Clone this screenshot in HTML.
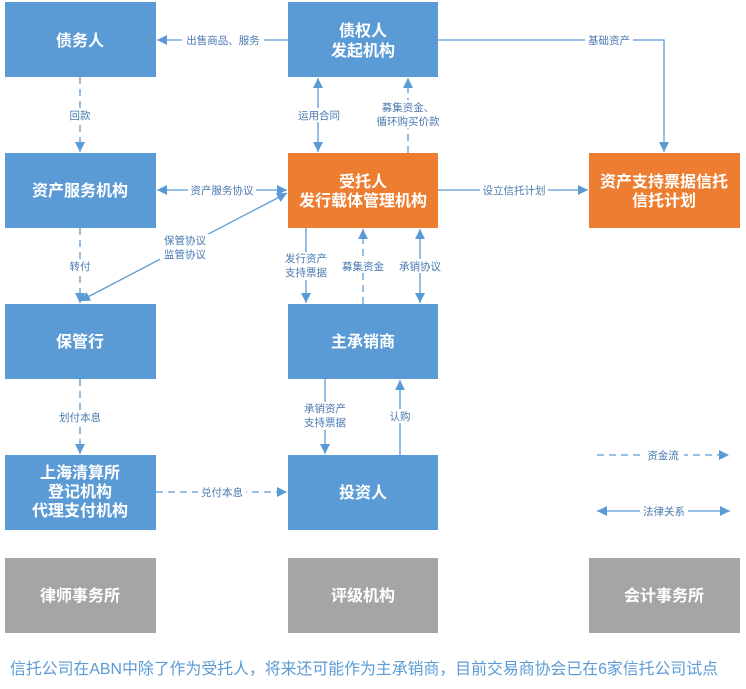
<!DOCTYPE html>
<html><head><meta charset="utf-8"><style>
body{margin:0;background:#fff;}
svg{display:block;font-family:"Liberation Sans","Noto Sans CJK SC",sans-serif;}
.bt{fill:#fff;font-size:16px;font-weight:bold;text-anchor:middle;}
.lb{fill:#4a78b0;font-size:10.5px;text-anchor:middle;}
.s{stroke:#5b9bd5;stroke-width:1.3;fill:none;}
.d{stroke:#5b9bd5;stroke-width:1.3;fill:none;stroke-dasharray:7,5;}
</style></head><body>
<svg width="746" height="689" viewBox="0 0 746 689">
<defs>
<marker id="a" viewBox="0 0 10 10" refX="10" refY="5" markerWidth="10" markerHeight="10" markerUnits="userSpaceOnUse" orient="auto-start-reverse"><path d="M0,0L10,5L0,10z" fill="#5b9bd5"/></marker>
</defs>
<g>
<rect x="5" y="2" width="151" height="75" fill="#5b9bd5"/>
<rect x="288" y="2" width="150" height="75" fill="#5b9bd5"/>
<rect x="5" y="153" width="151" height="75" fill="#5b9bd5"/>
<rect x="288" y="153" width="150" height="75" fill="#ed7d31"/>
<rect x="589" y="153" width="151" height="75" fill="#ed7d31"/>
<rect x="5" y="304" width="151" height="75" fill="#5b9bd5"/>
<rect x="288" y="304" width="150" height="75" fill="#5b9bd5"/>
<rect x="5" y="455" width="151" height="75" fill="#5b9bd5"/>
<rect x="288" y="455" width="150" height="75" fill="#5b9bd5"/>
<rect x="5" y="558" width="151" height="75" fill="#a5a5a5"/>
<rect x="288" y="558" width="150" height="75" fill="#a5a5a5"/>
<rect x="589" y="558" width="151" height="75" fill="#a5a5a5"/>
</g>
<text class="bt" x="80" y="46">债务人</text>
<text class="bt" x="363" y="36">债权人</text><text class="bt" x="363" y="56">发起机构</text>
<text class="bt" x="80" y="196">资产服务机构</text>
<text class="bt" x="363" y="187">受托人</text><text class="bt" x="363" y="206">发行载体管理机构</text>
<text class="bt" x="664" y="187">资产支持票据信托</text><text class="bt" x="664" y="206">信托计划</text>
<text class="bt" x="80" y="347">保管行</text>
<text class="bt" x="363" y="347">主承销商</text>
<text class="bt" x="80" y="478">上海清算所</text><text class="bt" x="80" y="497">登记机构</text><text class="bt" x="80" y="516">代理支付机构</text>
<text class="bt" x="363" y="498">投资人</text>
<text class="bt" x="80" y="601">律师事务所</text>
<text class="bt" x="363" y="601">评级机构</text>
<text class="bt" x="664" y="601">会计事务所</text>

<!-- connectors -->
<line class="s" x1="288" y1="40" x2="157" y2="40" marker-end="url(#a)"/>
<rect x="182" y="33" width="82" height="14" fill="#fff"/><text class="lb" x="223" y="44">出售商品、服务</text>
<line class="d" x1="80" y1="77" x2="80" y2="152" marker-end="url(#a)"/>
<rect x="66" y="108" width="28" height="14" fill="#fff"/><text class="lb" x="80" y="119">回款</text>
<polyline class="s" points="438,40 664,40 664,152" marker-end="url(#a)"/>
<rect x="585" y="33" width="48" height="14" fill="#fff"/><text class="lb" x="609" y="44">基础资产</text>
<line class="s" x1="318" y1="78" x2="318" y2="152" marker-start="url(#a)" marker-end="url(#a)"/>
<rect x="296" y="108" width="46" height="14" fill="#fff"/><text class="lb" x="319" y="119">运用合同</text>
<line class="d" x1="408" y1="153" x2="408" y2="78" marker-end="url(#a)"/>
<rect x="374" y="100" width="70" height="28" fill="#fff"/><text class="lb" x="408" y="111">募集资金、</text><text class="lb" x="408" y="125">循环购买价款</text>
<line class="s" x1="157" y1="190" x2="287" y2="190" marker-start="url(#a)" marker-end="url(#a)"/>
<rect x="188" y="183" width="68" height="14" fill="#fff"/><text class="lb" x="222" y="194">资产服务协议</text>
<line class="s" x1="438" y1="190" x2="588" y2="190" marker-end="url(#a)"/>
<rect x="480" y="183" width="68" height="14" fill="#fff"/><text class="lb" x="514" y="194">设立信托计划</text>
<line class="d" x1="80" y1="228" x2="80" y2="303" marker-end="url(#a)"/>
<rect x="66" y="259" width="28" height="14" fill="#fff"/><text class="lb" x="80" y="270">转付</text>
<line class="s" x1="80" y1="301" x2="287" y2="193" marker-start="url(#a)" marker-end="url(#a)"/>
<rect x="160" y="234" width="50" height="28" fill="#fff"/><text class="lb" x="185" y="244">保管协议</text><text class="lb" x="185" y="258">监管协议</text>
<line class="s" x1="306" y1="228" x2="306" y2="303" marker-end="url(#a)"/>
<rect x="282" y="252" width="48" height="28" fill="#fff"/><text class="lb" x="306" y="262">发行资产</text><text class="lb" x="306" y="276">支持票据</text>
<line class="d" x1="363" y1="304" x2="363" y2="229" marker-end="url(#a)"/>
<rect x="340" y="259" width="46" height="14" fill="#fff"/><text class="lb" x="363" y="270">募集资金</text>
<line class="s" x1="420" y1="229" x2="420" y2="303" marker-start="url(#a)" marker-end="url(#a)"/>
<rect x="397" y="259" width="46" height="14" fill="#fff"/><text class="lb" x="420" y="270">承销协议</text>
<line class="s" x1="325" y1="379" x2="325" y2="454" marker-end="url(#a)"/>
<rect x="301" y="402" width="48" height="28" fill="#fff"/><text class="lb" x="325" y="412">承销资产</text><text class="lb" x="325" y="426">支持票据</text>
<line class="s" x1="400" y1="455" x2="400" y2="380" marker-end="url(#a)"/>
<rect x="386" y="409" width="28" height="14" fill="#fff"/><text class="lb" x="400" y="420">认购</text>
<line class="d" x1="80" y1="379" x2="80" y2="454" marker-end="url(#a)"/>
<rect x="56" y="410" width="48" height="14" fill="#fff"/><text class="lb" x="80" y="421">划付本息</text>
<line class="d" x1="156" y1="492" x2="287" y2="492" marker-end="url(#a)"/>
<rect x="198" y="485" width="48" height="14" fill="#fff"/><text class="lb" x="222" y="496">兑付本息</text>
<!-- legend -->
<line class="d" x1="597" y1="455" x2="729" y2="455" marker-end="url(#a)"/>
<rect x="642" y="448" width="42" height="14" fill="#fff"/><text class="lb" x="663" y="459">资金流</text>
<line class="s" x1="597" y1="511" x2="730" y2="511" marker-start="url(#a)" marker-end="url(#a)"/>
<rect x="640" y="504" width="48" height="14" fill="#fff"/><text class="lb" x="664" y="515">法律关系</text>
<text x="10" y="674" fill="#5b9bd5" font-size="16" textLength="708" lengthAdjust="spacingAndGlyphs">信托公司在ABN中除了作为受托人，将来还可能作为主承销商，目前交易商协会已在6家信托公司试点</text>
</svg>
</body></html>
